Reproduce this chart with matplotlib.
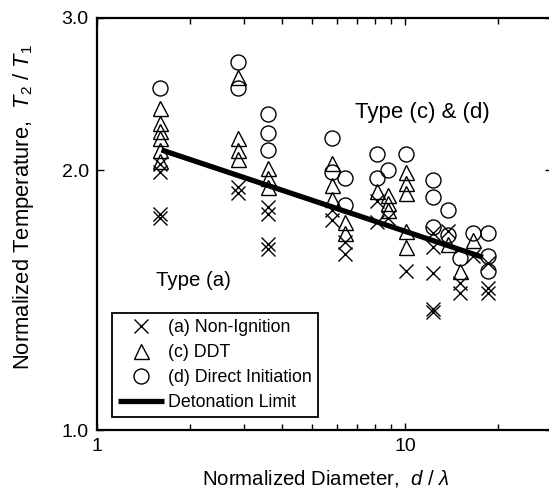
import matplotlib
matplotlib.use("Agg")
import matplotlib.pyplot as plt
from matplotlib.ticker import LogLocator, NullLocator, FixedLocator, FixedFormatter, NullFormatter

plt.rcParams['font.family'] = ['Liberation Sans', 'DejaVu Sans']
plt.rcParams['mathtext.fontset'] = 'custom'
plt.rcParams['mathtext.rm'] = 'Liberation Sans'
plt.rcParams['mathtext.it'] = 'Liberation Sans:italic'

# ---- data ----
# (a) Non-Ignition
nonign_x = [1.60, 1.60, 1.60, 1.60,
            2.87, 2.87,
            3.59, 3.59, 3.59, 3.59,
            5.8, 5.8,
            6.4, 6.4,
            8.1, 8.1,
            8.8,
            10.1,
            12.3, 12.3, 12.3, 12.3, 12.3,
            13.8,
            15.1, 15.1,
            16.6,
            18.6, 18.6, 18.6]
nonign_y = [1.78, 1.76, 2.03, 1.99,
            1.91, 1.88,
            1.81, 1.78, 1.64, 1.62,
            1.80, 1.75,
            1.65, 1.60,
            1.84, 1.74,
            1.76,
            1.53,
            1.69, 1.63, 1.52, 1.38, 1.37,
            1.70,
            1.48, 1.44,
            1.59,
            1.56, 1.46, 1.44]

# (c) DDT
ddt_x = [1.60, 1.60, 1.60, 1.60, 1.60, 1.60,
         2.87, 2.87, 2.87, 2.87,
         3.59, 3.59, 3.59,
         5.8, 5.8, 5.8,
         6.4, 6.4,
         8.1,
         8.8, 8.8, 8.8,
         10.1, 10.1, 10.1, 10.1, 10.1,
         13.8,
         15.1,
         16.6]
ddt_y = [2.36, 2.27, 2.22, 2.18, 2.11, 2.05,
         2.56, 2.18, 2.11, 2.06,
         2.01, 1.96, 1.91,
         2.04, 1.92, 1.85,
         1.74, 1.69,
         1.89,
         1.87, 1.83, 1.80,
         1.99, 1.93, 1.88, 1.70, 1.63,
         1.64,
         1.53,
         1.66]

# (d) Direct Initiation
direct_x = [1.60,
            2.87, 2.87,
            3.59, 3.59, 3.59,
            5.8, 5.8,
            6.4, 6.4,
            8.1, 8.1,
            8.8,
            10.1,
            12.3, 12.3, 12.3,
            13.8, 13.8,
            15.1,
            16.6,
            18.6, 18.6, 18.6]
direct_y = [2.49,
            2.67, 2.49,
            2.32, 2.21, 2.11,
            2.18, 1.99,
            1.96, 1.82,
            2.09, 1.96,
            2.00,
            2.09,
            1.95, 1.86, 1.72,
            1.80, 1.68,
            1.58,
            1.69,
            1.69, 1.59, 1.53]

# Detonation limit
limit_x = [1.62, 17.9]
limit_y = [2.11, 1.585]

x_ticks = [1, 10]
x_ticklabels = ["1", "10"]
y_ticks = [1.0, 2.0, 3.0]
y_ticklabels = ["1.0", "2.0", "3.0"]

# ---- figure ----
fig = plt.figure(figsize=(5.49, 4.90), dpi=100)
ax = fig.add_axes([97/549, 60/490, 455/549, 412/490])

ax.set_xscale('log')
ax.set_yscale('log')
ax.set_xlim(1, 30)
ax.set_ylim(1.0, 3.0)

ms = 10.8
ax.plot(nonign_x, nonign_y, linestyle='none', marker='x', markersize=10,
        markeredgewidth=1.0, color='black', label='(a) Non-Ignition', zorder=3)
ax.plot(ddt_x, ddt_y, linestyle='none', marker='^', markersize=ms,
        markerfacecolor='none', markeredgecolor='black', markeredgewidth=1.0,
        label='(c) DDT', zorder=3)
ax.plot(direct_x, direct_y, linestyle='none', marker='o', markersize=ms,
        markerfacecolor='none', markeredgecolor='black', markeredgewidth=1.0,
        label='(d) Direct Initiation', zorder=3)
ax.plot(limit_x, limit_y, color='black', linewidth=3.8, solid_capstyle='butt',
        label='Detonation Limit', zorder=4)

# ticks
ax.xaxis.set_major_locator(FixedLocator(x_ticks))
ax.xaxis.set_major_formatter(FixedFormatter(x_ticklabels))
ax.xaxis.set_minor_locator(LogLocator(base=10, subs=range(2, 10)))
ax.xaxis.set_minor_formatter(NullFormatter())
ax.yaxis.set_major_locator(FixedLocator(y_ticks))
ax.yaxis.set_major_formatter(FixedFormatter(y_ticklabels))
ax.yaxis.set_minor_locator(NullLocator())

ax.tick_params(which='both', direction='in', top=True, right=True,
               labelsize=14, width=1.0, pad=6)
ax.tick_params(which='major', length=5)
ax.tick_params(which='minor', length=4)
for s in ax.spines.values():
    s.set_linewidth(1.6)

ax.set_xlabel(r"Normalized Diameter,  $d\ /\ \lambda$", fontsize=14.7)
ax.set_ylabel(r"Normalized Temperature,  $T_{2}\ /\ T_{1}$", fontsize=15.8)
ax.xaxis.set_label_coords(0.503, -0.093)
ax.yaxis.set_label_coords(-0.135, 0.54)

ax.text(11.4, 2.33, "Type (c) & (d)", fontsize=16, ha='center', va='center')
ax.text(2.05, 1.49, "Type (a)", fontsize=14.7, ha='center', va='center')

leg = ax.legend(loc='lower left', bbox_to_anchor=(15/455, 13/412), fontsize=12.8,
                frameon=True, fancybox=False, edgecolor='black', framealpha=1,
                borderpad=0.35, labelspacing=0.45, handlelength=2.6,
                handletextpad=0.2, borderaxespad=0)
leg.get_frame().set_linewidth(1.3)

fig.savefig("out.png", dpi=100)
